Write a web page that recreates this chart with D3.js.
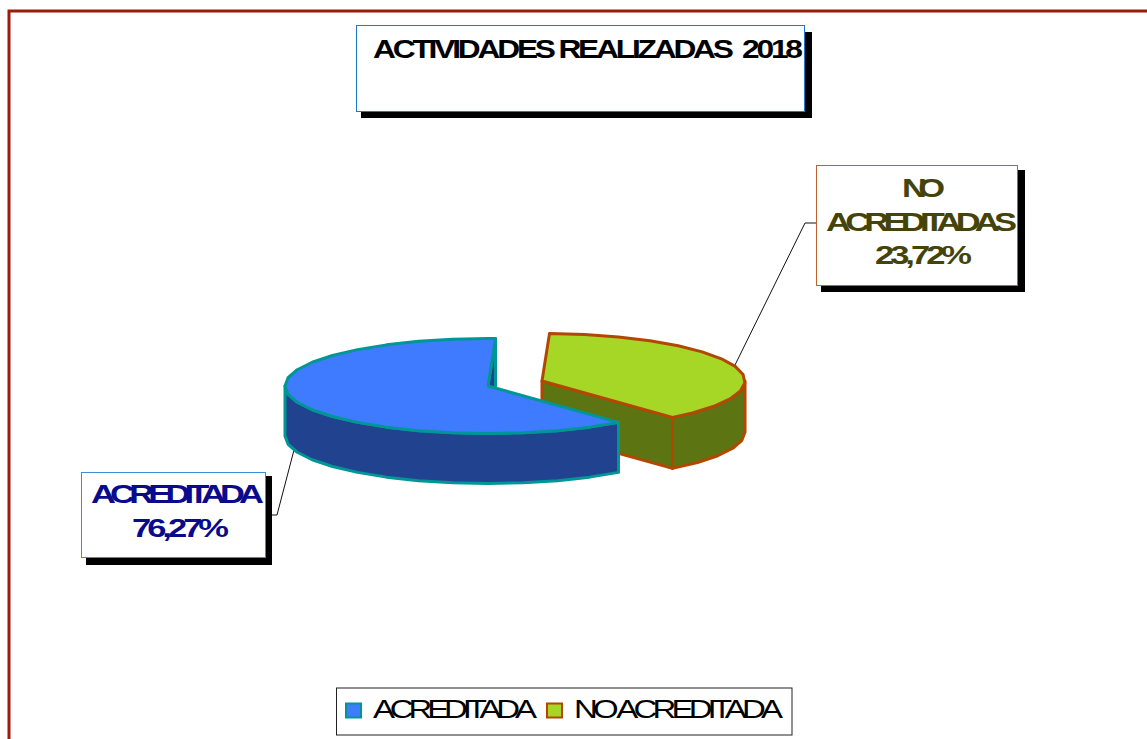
<!DOCTYPE html>
<html>
<head>
<meta charset="utf-8">
<script src="https://cdn.jsdelivr.net/npm/d3@7"></script>
<style>
body { margin: 0; background: #fff; }
text { font-family: "Liberation Sans", Arial, sans-serif; }
</style>
</head>
<body>
<svg></svg>
<script>
var width = 1147;
var height = 739;

// Chart content
var chartTitle = 'ACTIVIDADES REALIZADAS  2018';
var categories = ['ACREDITADA', 'NO ACREDITADA'];
var printedPercents = ['76,27%', '23,72%'];
// Share of the circle each slice really takes up in the drawing (not the printed numbers)
var drawnShares = [61.7, 38.3];

// Colors per slice
var topColors = ['#3f7bff', '#a6d626'];
var wallColors = ['#20428f', '#5c7512'];
var edgeColors = ['#009696', '#b34700'];

var svg = d3.select('svg')
    .attr('width', width)
    .attr('height', height);

// Slice angles, first slice starts low on the right side
var deg = Math.PI / 180;
var arcs = d3.pie()
    .sort(null)
    .value(d => d)
    .startAngle(140 * deg)
    .endAngle(500 * deg)
    (drawnShares);

// Each slice is pulled out, so each gets its own center
var sliceGeometry = [
    { cx: 488, cy: 386, depth: 50 },
    { cx: 542, cy: 381, depth: 51 }
];
var radiusX = 203;
var radiusY = 47.5;

// Outer frame, runs off the picture to the right and bottom
svg.append('path')
    .attr('d', `M9,${height} V11 H${width}`)
    .attr('fill', 'none')
    .attr('stroke', '#9c1c0a')
    .attr('stroke-width', 3);

var line = d3.line();

function drawSlice(i) {
    var arc = arcs[i];
    var geo = sliceGeometry[i];
    var x = d3.scaleLinear().domain([-1, 1]).range([geo.cx - radiusX, geo.cx + radiusX]);
    var y = d3.scaleLinear().domain([-1, 1]).range([geo.cy - radiusY, geo.cy + radiusY]);
    var rimPoint = (a, drop) => [x(Math.sin(a)), y(-Math.cos(a)) + drop];
    var rim = (a0, a1, drop) => d3.range(a0, a1, 10 * deg).concat([a1]).map(a => rimPoint(a, drop));
    var apex = [x(0), y(0)];
    var apexLow = [x(0), y(0) + geo.depth];

    var g = svg.append('g')
        .attr('stroke', edgeColors[i])
        .attr('stroke-width', 3)
        .attr('stroke-linejoin', 'round');

    // Radial wall at the end of the slice
    var walls = [[apex, rimPoint(arc.endAngle, 0), rimPoint(arc.endAngle, geo.depth), apexLow]];

    // Outer wall only shows on the front half of the ellipse.
    // The green slice wraps past a full turn so bring its end back first
    var frontEnd = i === 0 ? 270 * deg : arc.endAngle - 2 * Math.PI;
    var frontStart = i === 0 ? arc.startAngle : 90 * deg;
    walls.push(rim(frontStart, frontEnd, 0).concat(rim(frontStart, frontEnd, geo.depth).reverse()));

    g.selectAll('.wall')
        .data(walls)
        .enter()
        .append('path')
            .classed('wall', true)
            .attr('fill', wallColors[i])
            .attr('d', d => line(d) + 'Z');

    g.append('path')
        .attr('fill', topColors[i])
        .attr('d', line([apex].concat(rim(arc.startAngle, arc.endAngle, 0))) + 'Z');
}

// Leader lines go behind the pie
var leaders = [
    [[265, 515], [277, 515], [294, 450]],
    [[816, 223], [805, 223], [735, 365]]
];
svg.selectAll('.leader')
    .data(leaders)
    .enter()
    .append('path')
        .classed('leader', true)
        .attr('d', d => line(d))
        .attr('fill', 'none')
        .attr('stroke', '#111')
        .attr('stroke-width', 1);

// Green one first, the blue slice overlaps it
drawSlice(1);
drawSlice(0);

function drawBox(box) {
    svg.append('rect')
        .attr('x', box.shadow[0])
        .attr('y', box.shadow[1])
        .attr('width', box.shadow[2] - box.shadow[0])
        .attr('height', box.shadow[3] - box.shadow[1])
        .attr('fill', '#000');
    svg.append('rect')
        .attr('x', box.rect[0] + 0.5)
        .attr('y', box.rect[1] + 0.5)
        .attr('width', box.rect[2] - box.rect[0])
        .attr('height', box.rect[3] - box.rect[1])
        .attr('fill', '#fff')
        .attr('stroke', box.stroke)
        .attr('stroke-width', 1);
}

// Reference text is stretched wide with the letters overlapping
function drawText(t, weight, fill, size, stretch) {
    svg.append('text')
        .attr('transform', `translate(${t.x0},${t.y}) scale(${stretch},1)`)
        .attr('textLength', (t.x1 - t.x0) / stretch)
        .attr('lengthAdjust', 'spacing')
        .style('white-space', 'pre')
        .attr('font-size', size)
        .attr('font-weight', weight)
        .attr('fill', fill)
        .text(t.text);
}

// Title
drawBox({ rect: [356, 25, 804, 111], shadow: [361, 32, 812, 118], stroke: '#1f78c8' });
drawText({ text: chartTitle, x0: 373, x1: 803, y: 58 }, 'bold', '#000', 26, 1.22);

// Label for NO ACREDITADA
drawBox({ rect: [816, 165, 1017, 285], shadow: [821, 170, 1025, 292], stroke: '#c0622d' });
[
    { text: 'NO', x0: 902, x1: 945, y: 197 },
    { text: 'ACREDITADAS', x0: 826, x1: 1017, y: 231 },
    { text: printedPercents[1], x0: 875, x1: 972, y: 264 }
].forEach(t => drawText(t, 'bold', '#44440a', 25, 1.38));

// Label for ACREDITADA
drawBox({ rect: [81, 472, 265, 557], shadow: [86, 476, 272, 565], stroke: '#3b8fd8' });
[
    { text: 'ACREDITADA', x0: 91, x1: 264, y: 503 },
    { text: printedPercents[0], x0: 132, x1: 229, y: 537 }
].forEach(t => drawText(t, 'bold', '#0a0a8c', 25, 1.38));

// Legend
svg.append('rect')
    .attr('x', 336.5)
    .attr('y', 688)
    .attr('width', 455.5)
    .attr('height', 47)
    .attr('fill', '#fff')
    .attr('stroke', '#222')
    .attr('stroke-width', 1);

var legendSwatchX = d3.scaleOrdinal().domain(categories).range([346, 547]);
var legendTextX = d3.scaleOrdinal().domain(categories).range([[373, 537], [574, 783]]);

categories.forEach((c, i) => {
    svg.append('rect')
        .attr('x', legendSwatchX(c))
        .attr('y', 703.5)
        .attr('width', 15)
        .attr('height', 14)
        .attr('fill', topColors[i])
        .attr('stroke', edgeColors[i])
        .attr('stroke-width', 2);
    drawText({ text: c, x0: legendTextX(c)[0], x1: legendTextX(c)[1], y: 718 }, 'normal', '#000', 25, 1.32);
});
</script>
</body>
</html>
